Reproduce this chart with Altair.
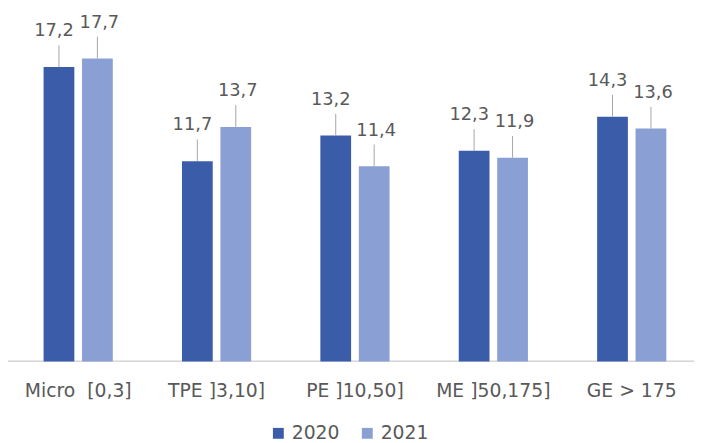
import altair as alt
import pandas as pd

categories = ["Micro\u00a0 [0,3]", "TPE ]3,10]", "PE ]10,50]", "ME ]50,175]", "GE > 175"]
years = ["2020", "2021"]
values_2020 = [17.2, 11.7, 13.2, 12.3, 14.3]
values_2021 = [17.7, 13.7, 11.4, 11.9, 13.6]
colors = ["#3b5ca9", "#8a9fd3"]

rows = []
for year, vals in zip(years, [values_2020, values_2021]):
    for c, v in zip(categories, vals):
        rows.append({"cat": c, "year": year, "value": v,
                     "label": f"{v:.1f}".replace(".", ",")})
df = pd.DataFrame(rows)

FONT = "DejaVu Sans"
GREY = "#595959"
W, H = 686, 355

x = alt.X("cat:N", sort=categories,
          scale=alt.Scale(paddingInner=0.5, paddingOuter=0.2),
          axis=alt.Axis(title=None, labelAngle=0, ticks=False, domain=False,
                        labelFontSize=19, labelColor=GREY,
                        labelPadding=20, labelFont=FONT))
xo = alt.XOffset("year:N", sort=years,
                 scale=alt.Scale(paddingInner=0.2, paddingOuter=0.0))
y = alt.Y("value:Q", scale=alt.Scale(domain=[0, 20.5], nice=False, zero=True), axis=None)

base = alt.Chart(df).encode(x=x, xOffset=xo, y=y)

baseline = alt.Chart(df).mark_rule(color="#d9d9d9", strokeWidth=1).encode(
    x=alt.value(-8), x2=alt.value(W), y=alt.value(H)
)
bars = base.mark_bar().encode(
    color=alt.Color("year:N", scale=alt.Scale(domain=years, range=colors),
                    legend=alt.Legend(title=None, orient="none", legendX=256, legendY=418,
                                      direction="horizontal", symbolType="square",
                                      symbolSize=121, symbolStrokeWidth=0,
                                      labelFontSize=19, labelColor=GREY, labelFont=FONT,
                                      columnPadding=18, labelOffset=4))
)
leaders = base.mark_rule(y2Offset=-22, color="#a6a6a6", strokeWidth=1).encode(
    y2=alt.Y2("value:Q")
)
labels_a = base.transform_filter(alt.datum.year == years[0]).mark_text(
    dy=-36, dx=-5, fontSize=18, color=GREY, font=FONT, baseline="middle"
).encode(text="label:N")
labels_b = base.transform_filter(alt.datum.year == years[1]).mark_text(
    dy=-36, dx=2, fontSize=18, color=GREY, font=FONT, baseline="middle"
).encode(text="label:N")

chart = alt.layer(baseline, bars, leaders, labels_a, labels_b).properties(
    width=W, height=H,
    autosize=alt.AutoSizeParams(type="none"),
    padding={"left": 8, "top": 0, "right": 0, "bottom": 80},
).configure_view(stroke=None)

chart.save("out.html", embed_options={"renderer": "svg", "actions": False})
